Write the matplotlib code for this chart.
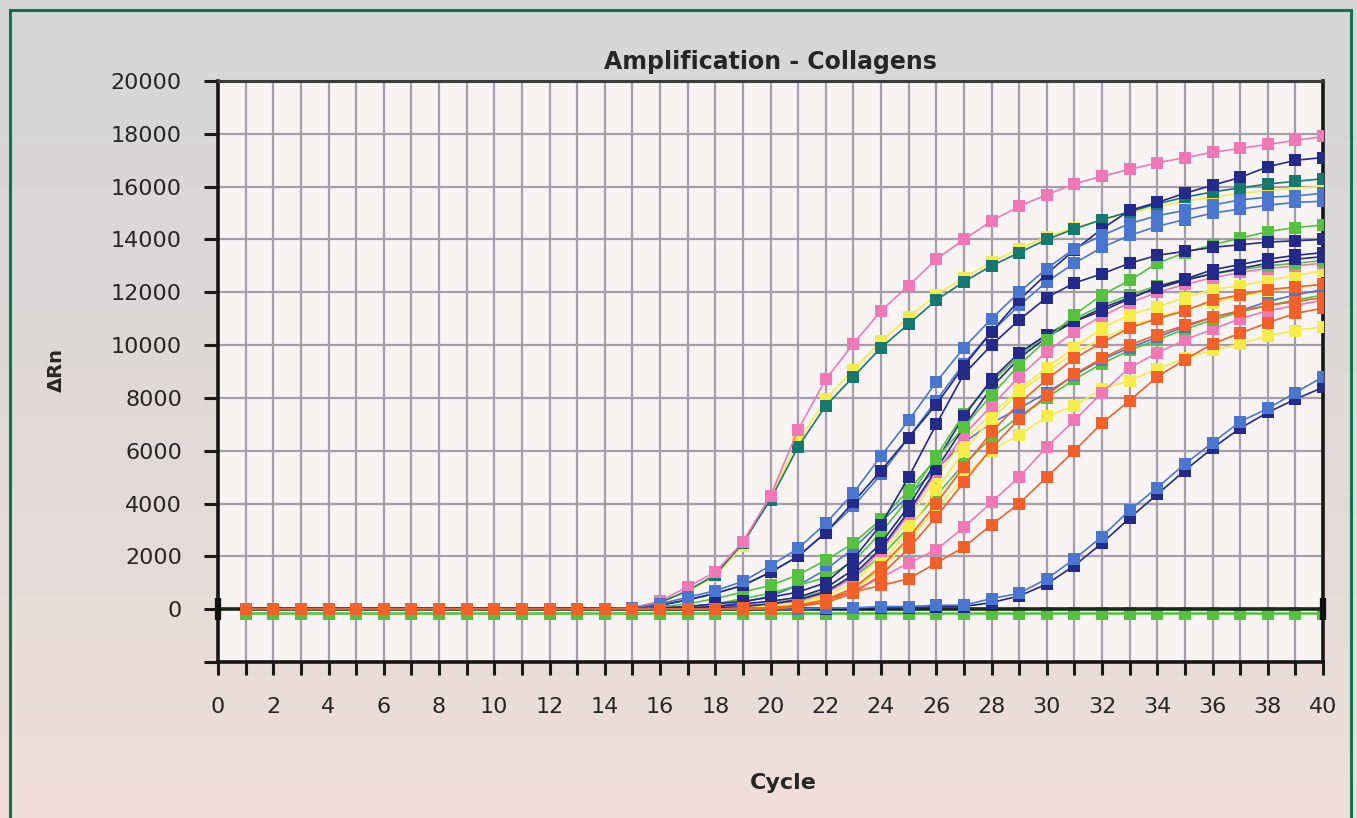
import numpy as np
import matplotlib
matplotlib.use("Agg")
import matplotlib.pyplot as plt
from matplotlib.lines import Line2D

# cycle numbers and delta Rn values
cycles = list(range(1, 41))

pink_a = [0]*14 + [50, 300, 850, 1400, 2550, 4300, 6800, 8700, 10050, 11300, 12250, 13250, 14000,
                   14700, 15250, 15700, 16100, 16400, 16650, 16900, 17100, 17300, 17450, 17600, 17750, 17900]
yellow_a = [0]*14 + [50, 250, 650, 1250, 2400, 4300, 6350, 7950, 9050, 10150, 11050, 11900, 12550,
                     13150, 13650, 14100, 14450, 14750, 15000, 15250, 15450, 15600, 15750, 15850, 15950, 16000]
teal_a = [0]*14 + [50, 250, 700, 1300, 2500, 4150, 6150, 7700, 8800, 9900, 10800, 11700, 12400,
                   13000, 13500, 14000, 14400, 14750, 15050, 15350, 15600, 15800, 15950, 16100, 16200, 16300]
blue_b1 = [0]*14 + [50, 200, 450, 700, 1050, 1650, 2300, 3250, 4400, 5800, 7150, 8600, 9900,
                    11000, 12000, 12900, 13650, 14150, 14600, 14900, 15100, 15300, 15500, 15600, 15650, 15750]
blue_b2 = [0]*14 + [0, 150, 350, 600, 900, 1400, 2000, 2900, 3900, 5100, 6500, 7900, 9300,
                    10500, 11500, 12400, 13100, 13700, 14150, 14500, 14750, 15000, 15150, 15300, 15400, 15450]
navy_b1 = [0]*14 + [50, 150, 350, 600, 900, 1400, 2000, 2900, 4050, 5250, 6500, 7750, 9200,
                    10500, 11700, 12700, 13600, 14400, 15100, 15400, 15750, 16050, 16350, 16750, 17000, 17100]
navy_c1 = [0]*14 + [0, 50, 100, 200, 300, 450, 650, 1000, 1900, 3200, 5000, 7000, 8900,
                    10000, 10950, 11800, 12350, 12700, 13100, 13400, 13550, 13700, 13800, 13900, 13950, 14000]
navy_c2 = [0]*14 + [0, 0, 50, 100, 200, 300, 450, 800, 1500, 2500, 3900, 5600, 7300,
                    8700, 9700, 10400, 10900, 11300, 11750, 12200, 12500, 12850, 13050, 13250, 13400, 13500]
navy_c3 = [0]*14 + [0, 0, 0, 50, 100, 200, 350, 650, 1300, 2300, 3700, 5300, 6900,
                    8400, 9500, 10300, 10900, 11400, 11800, 12150, 12450, 12700, 12900, 13100, 13250, 13350]
green_c1 = [0]*14 + [0, 100, 200, 400, 650, 900, 1300, 1850, 2500, 3400, 4500, 5700, 6900,
                     8100, 9250, 10200, 11150, 11900, 12450, 13100, 13500, 13800, 14050, 14300, 14450, 14550]
green_c2 = [0]*14 + [0, 50, 100, 200, 400, 600, 900, 1200, 1800, 2900, 4200, 5800, 7400,
                     8600, 9600, 10400, 11000, 11500, 11900, 12250, 12500, 12700, 12850, 13000, 13100, 13200]
pink_c = [0]*14 + [0, 0, 50, 100, 150, 200, 300, 600, 1200, 2200, 3600, 5200, 6600,
                   7700, 8800, 9750, 10500, 11100, 11600, 12000, 12300, 12550, 12750, 12900, 13000, 13100]
yellow_d1 = [0]*14 + [0, 0, 0, 50, 100, 150, 250, 500, 1000, 2000, 3400, 5000, 6400,
                      7400, 8300, 9150, 9900, 10650, 11150, 11450, 11800, 12100, 12250, 12450, 12650, 12800]
yellow_d2 = [0]*14 + [0, 0, 0, 0, 50, 100, 200, 400, 800, 1700, 3000, 4500, 6000,
                      7200, 8200, 9000, 9700, 10250, 10700, 11050, 11350, 11600, 11850, 12050, 12200, 12300]
blue_d = [0]*14 + [0, 0, 50, 100, 250, 500, 900, 1500, 2300, 3300, 4300, 5300, 6300,
                   7050, 7600, 8200, 8850, 9450, 9900, 10300, 10700, 11050, 11300, 11650, 11900, 12100]
green_d = [0]*14 + [0, 0, 0, 50, 100, 200, 400, 700, 1200, 2000, 3100, 4300, 5500,
                    6500, 7300, 8000, 8700, 9300, 9800, 10200, 10600, 10950, 11250, 11500, 11700, 11900]
pink_e = [0]*14 + [0, 0, 0, 0, 0, 50, 150, 350, 700, 1200, 1750, 2250, 3100,
                   4050, 5000, 6150, 7150, 8200, 9150, 9700, 10200, 10600, 11000, 11300, 11500, 11700]
yellow_e = [0]*14 + [0, 0, 0, 0, 0, 50, 150, 300, 700, 1500, 2600, 3800, 5000,
                     6000, 6600, 7300, 7700, 8350, 8650, 9100, 9500, 9800, 10050, 10350, 10550, 10700]
orange_e = [0]*14 + [0, 0, 0, 0, 0, 0, 100, 350, 650, 900, 1150, 1750, 2350,
                     3200, 4000, 5000, 6000, 7050, 7900, 8800, 9450, 10050, 10450, 10850, 11200, 11400]
orange_d2 = [0]*14 + [0, 0, 0, 0, 0, 50, 100, 250, 600, 1300, 2300, 3500, 4800,
                      6100, 7200, 8100, 8900, 9500, 10000, 10400, 10750, 11050, 11300, 11500, 11650, 11800]
orange_d1 = [0]*14 + [0, 0, 0, 0, 50, 50, 150, 350, 800, 1600, 2700, 4000, 5400,
                      6700, 7800, 8700, 9500, 10100, 10650, 11000, 11300, 11700, 11900, 12100, 12200, 12300]
blue_f1 = [0]*14 + [0, 0, 0, 0, 0, 0, 0, 50, 50, 100, 100, 150, 150,
                    400, 600, 1150, 1900, 2750, 3750, 4600, 5500, 6300, 7100, 7600, 8200, 8800]
blue_f2 = [0]*14 + [0, 0, 0, 0, 0, 0, 0, 0, 50, 50, 50, 100, 100,
                    250, 500, 950, 1650, 2500, 3450, 4350, 5250, 6100, 6850, 7450, 7950, 8400]
green_neg1 = [-160]*40
green_neg2 = [-200]*40

threshold = 0

PINK = "#f178b6"
TEAL = "#17786f"
YELLOW = "#f5ec48"
LBLUE = "#4a76cf"
NAVY = "#232a8a"
GREEN = "#55c23f"
ORANGE = "#f2612a"

series = [
    (yellow_a, YELLOW), (teal_a, TEAL), (pink_a, PINK),
    (blue_f2, NAVY), (blue_f1, LBLUE),
    (yellow_e, YELLOW), (pink_e, PINK),
    (green_d, GREEN), (blue_d, LBLUE), (yellow_d2, YELLOW),
    (yellow_d1, YELLOW), (pink_c, PINK),
    (green_c2, GREEN), (navy_c3, NAVY), (navy_c2, NAVY), (green_c1, GREEN), (navy_c1, NAVY),
    (blue_b2, LBLUE), (navy_b1, NAVY), (blue_b1, LBLUE),
    (orange_e, ORANGE), (orange_d2, ORANGE), (orange_d1, ORANGE),
]

fig = plt.figure(figsize=(13.57, 8.18), dpi=100)

# background gradient grey -> pinkish
bg = fig.add_axes([0, 0, 1, 1], zorder=-10)
top = np.array([0.84, 0.84, 0.845])
bot = np.array([0.94, 0.87, 0.86])
t = np.linspace(0, 1, 200)[:, None]
grad = top + (bot - top) * t ** 1.5
bg.imshow(grad[:, None, :], aspect="auto", extent=[0, 1, 0, 1])
bg.set_axis_off()

# green frame
W, H = 1357, 818
for xs, ys in [([10, 10], [0, 808]), ([10, 1351], [808, 808]), ([1351, 1351], [808, 0])]:
    fig.add_artist(Line2D([x / W for x in xs], [y / H for y in ys],
                          color="#0f7250", lw=2.2))

ax = fig.add_axes([218 / W, 1 - 662 / H, (1323 - 218) / W, (662 - 81) / H])
ax.set_facecolor("#f8f4f3")

ax.plot(cycles, green_neg1, color=GREEN, lw=1.2, marker="s", ms=8, mew=0, zorder=2)
ax.plot(cycles, green_neg2, color=GREEN, lw=1.2, marker="s", ms=8, mew=0, zorder=2)
ax.plot([0, 40], [threshold, threshold], color="#1a2b1e", lw=2.6, zorder=3)
ax.plot([0, 40], [threshold, threshold], ls="none", marker="|", ms=16, mew=4.5,
        color="#111111", zorder=6, clip_on=False)

for vals, col in series:
    ax.plot(cycles, vals, color=col, lw=1.2, marker="s", ms=8, mew=0, zorder=4)

ax.set_xlim(0, 40)
ax.set_ylim(-2000, 20000)

ax.set_xticks(range(0, 41))
ax.set_xticklabels([str(i) if i % 2 == 0 else "" for i in range(0, 41)])
yt = list(range(-2000, 20001, 2000))
ax.set_yticks(yt)
ax.set_yticklabels(["" if v < 0 else str(v) for v in yt])

ax.tick_params(axis="x", direction="out", length=9, width=2.2, pad=16,
               labelsize=16, labelcolor="#262626", colors="#1a1a1a")
ax.tick_params(axis="y", direction="out", length=10, width=2.2, pad=16,
               labelsize=16, labelcolor="#262626", colors="#1a1a1a")

for v in range(1, 40):
    ax.axvline(v, color="#a39ea8", lw=1.6, zorder=1)
for v in range(-2000, 20000, 2000):
    ax.axhline(v, color="#a39ea8", lw=1.6, zorder=1)

for s in ["left", "bottom", "right"]:
    ax.spines[s].set_linewidth(2.6)
    ax.spines[s].set_color("#161616")
ax.spines["top"].set_linewidth(2.2)
ax.spines["top"].set_color("#3c3c3c")

ax.set_title("Amplification - Collagens", fontsize=17, fontweight="bold",
             color="#262626", pad=9)
ax.set_xlabel("Cycle", fontsize=16, fontweight="bold", color="#262626")
ax.xaxis.set_label_coords((783 - 218) / 1105, -(773 - 662) / 581)
ax.set_ylabel("\u0394Rn", fontsize=14, fontweight="bold", color="#262626")
ax.yaxis.set_label_coords((66 - 218) / 1105, (662 - 370) / 581)

fig.savefig("out.png", dpi=100)
